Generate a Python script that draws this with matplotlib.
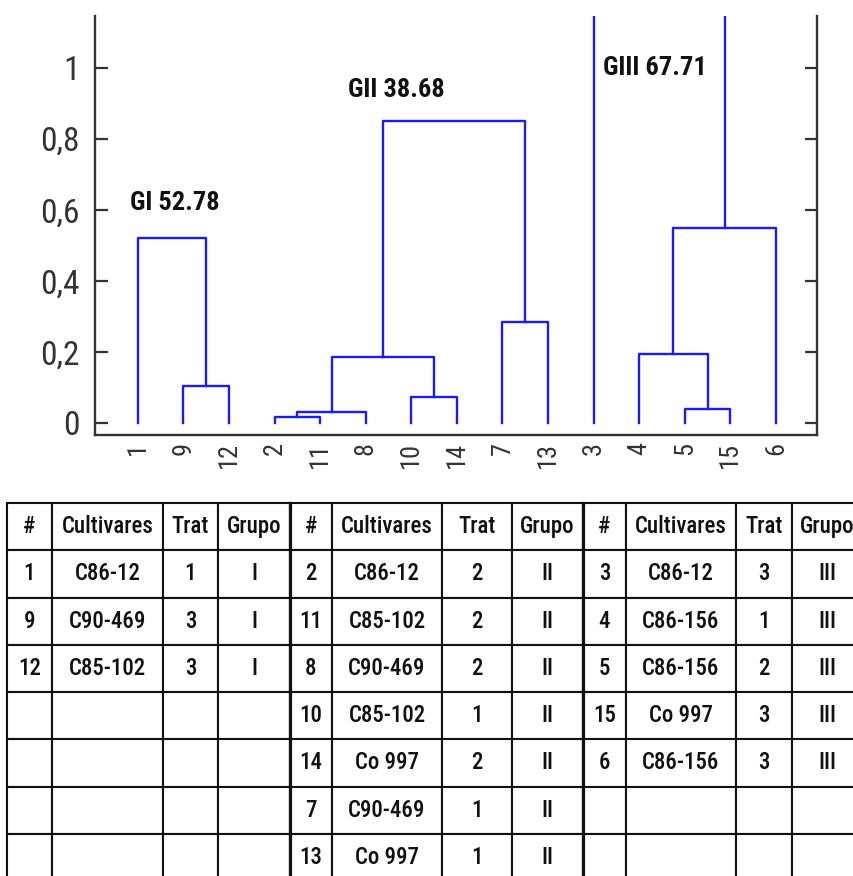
import matplotlib
matplotlib.use('Agg')
import matplotlib.pyplot as plt
import numpy as np

plt.rcParams['font.family'] = ['Roboto Condensed', 'Sofia Sans Condensed', 'DejaVu Sans']

# dendrogram data: leaf order and merges (left, right, height, new cluster name)
leaves = ['1', '9', '12', '2', '11', '8', '10', '14', '7', '13', '3', '4', '5', '15', '6']
link_left = ['9', '1', '2', 'C', '10', 'D', '7', 'F', '5', '4', 'J', '3']
link_right = ['12', 'A', '11', '8', '14', 'E', '13', 'G', '15', 'I', '6', 'K']
link_height = [0.104, 0.52, 0.017, 0.030, 0.073, 0.186, 0.283, 0.85, 0.039, 0.194, 0.548, 1.6]
link_name = ['A', 'B', 'C', 'D', 'E', 'F', 'G', 'H', 'I', 'J', 'K', 'L']

group_labels = ['GI 52.78', 'GII 38.68', 'GIII 67.71']
group_label_x = [-0.18, 4.6, 10.2]
group_label_y = [0.62, 0.937, 0.998]

yticks = [0, 0.2, 0.4, 0.6, 0.8, 1]
ytick_labels = ['0', '0,2', '0,4', '0,6', '0,8', '1']

# table data
header = ['#', 'Cultivares', 'Trat', 'Grupo']
g1_num = ['1', '9', '12']
g1_cult = ['C86-12', 'C90-469', 'C85-102']
g1_trat = ['1', '3', '3']
g2_num = ['2', '11', '8', '10', '14', '7', '13']
g2_cult = ['C86-12', 'C85-102', 'C90-469', 'C85-102', 'Co 997', 'C90-469', 'Co 997']
g2_trat = ['2', '2', '2', '1', '2', '1', '1']
g3_num = ['3', '4', '5', '15', '6']
g3_cult = ['C86-12', 'C86-156', 'C86-156', 'Co 997', 'C86-156']
g3_trat = ['3', '1', '2', '3', '3']

W, H = 854, 876
fig = plt.figure(figsize=(W / 100, H / 100), dpi=100)

ax = fig.add_axes([95 / W, 1 - 435 / H, (817 - 95) / W, (435 - 16) / H])

xpos = {name: i for i, name in enumerate(leaves)}
ypos = {name: 0.0 for name in leaves}
line_color = '#1a1aff'
for l, r, h, n in zip(link_left, link_right, link_height, link_name):
    xl, xr = xpos[l], xpos[r]
    ax.plot([xl, xl, xr, xr], [ypos[l], h, h, ypos[r]], color=line_color, lw=1.7)
    xpos[n] = (xl + xr) / 2
    ypos[n] = h

for txt, x, y in zip(group_labels, group_label_x, group_label_y):
    ax.text(x, y, txt, fontsize=19, fontweight='bold', ha='left', va='center', color='#111')

ax.set_xlim(-0.94, 14.9)
ax.set_ylim(-0.034, 1.145)
ax.set_xticks(range(len(leaves)))
ax.set_xticklabels(leaves, rotation=90, fontsize=19, color='#333')
ax.tick_params(axis='x', length=0, pad=5)
ax.set_yticks(yticks)
ax.set_yticklabels(ytick_labels, fontsize=24, color='#333')
ax.tick_params(axis='y', direction='in', length=9, width=1.6, left=True, right=True,
               pad=11, color='#333')
ax.spines['top'].set_visible(False)
for s in ['left', 'right', 'bottom']:
    ax.spines[s].set_linewidth(1.7)
    ax.spines[s].set_color('#333')

# table below
tab_ax = fig.add_axes([0, 0, 1, 1])
tab_ax.axis('off')
tab_ax.set_xlim(0, 1)
tab_ax.set_ylim(0, 1)
nrows = max(len(g1_num), len(g2_num), len(g3_num))

def pad(lst):
    return lst + [''] * (nrows - len(lst))

cols = [pad(g1_num), pad(g1_cult), pad(g1_trat), pad(['I'] * len(g1_num)),
        pad(g2_num), pad(g2_cult), pad(g2_trat), pad(['II'] * len(g2_num)),
        pad(g3_num), pad(g3_cult), pad(g3_trat), pad(['III'] * len(g3_num))]
cell_text = [[c[i] for c in cols] for i in range(nrows)]
col_w = np.array([45, 111, 55, 72, 42, 110, 70, 71, 43, 110, 56, 70], dtype=float)
col_w = col_w / col_w.sum()

bbox = [7 / W, 1 - 881 / H, 855 / W, 378 / H]
tbl = tab_ax.table(cellText=cell_text, colLabels=header * 3, colWidths=col_w,
                   cellLoc='center', colLoc='center', bbox=bbox)
tbl.auto_set_font_size(False)
tbl.set_fontsize(16.5)
for (r, c), cell in tbl.get_celld().items():
    cell.set_linewidth(1.5)
    cell.set_edgecolor('#111')
    cell.get_text().set_color('#111')
    cell.get_text().set_fontweight('medium')

# slightly heavier lines between the three groups
edges = bbox[0] + np.cumsum(col_w) * bbox[2]
for xe in [edges[3], edges[7]]:
    tab_ax.plot([xe, xe], [bbox[1], bbox[1] + bbox[3]], color='#111', lw=2.3)

fig.savefig('out.png', dpi=100)
